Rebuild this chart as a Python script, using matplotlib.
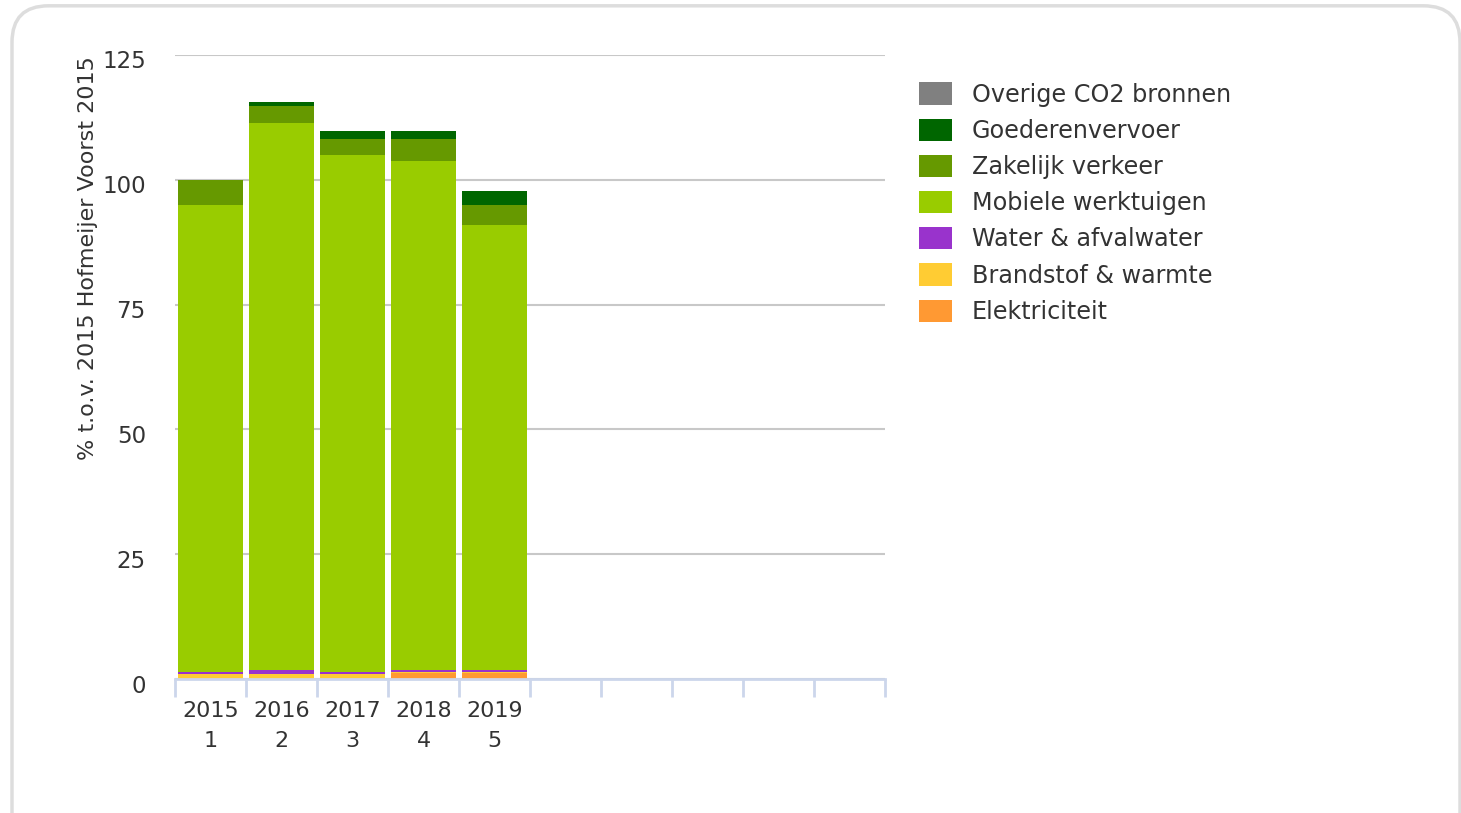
import numpy as np
import matplotlib.pyplot as plt
import matplotlib.transforms as mtransforms
from matplotlib.patches import FancyBboxPatch, Patch

# categorieën (10 plekken op de as, 5 gevuld)
jaren = ['2015', '2016', '2017', '2018', '2019']
nummers = ['1', '2', '3', '4', '5']
n_plekken = 10

# waarden per bron (% t.o.v. 2015)
elektriciteit = [0.0, 0.0, 0.0, 1.2, 1.2]
brandstof = [1.0, 1.0, 1.0, 0.3, 0.3]
water = [0.4, 0.8, 0.4, 0.3, 0.3]
mobiele = [93.6, 109.6, 103.6, 102.0, 89.2]
zakelijk = [4.9, 3.3, 3.2, 4.4, 4.0]
goederen = [0.0, 0.8, 1.6, 1.6, 2.8]
overige = [0.0, 0.0, 0.0, 0.0, 0.0]

reeksen = [
    ('Elektriciteit', elektriciteit, '#ff9933'),
    ('Brandstof & warmte', brandstof, '#ffcc33'),
    ('Water & afvalwater', water, '#9933cc'),
    ('Mobiele werktuigen', mobiele, '#99cc00'),
    ('Zakelijk verkeer', zakelijk, '#669900'),
    ('Goederenvervoer', goederen, '#006600'),
    ('Overige CO2 bronnen', overige, '#808080'),
]

W, H = 1461, 813
fig = plt.figure(figsize=(W / 100, H / 100), dpi=100)

# afgeronde rand rond de grafiek
rand = FancyBboxPatch((12 / W, -0.05), (1460 - 12) / W, (H - 5) / H + 0.05 - 0.001,
                      boxstyle='round,pad=0,rounding_size=0.025',
                      transform=fig.transFigure, facecolor='white',
                      edgecolor='#dddddd', linewidth=2.5, mutation_aspect=W / H,
                      zorder=-1)
fig.patches.append(rand)

ax = fig.add_axes([175 / W, (H - 679) / H, (885 - 175) / W, (679 - 55) / H])
ax.set_facecolor('none')

x = np.arange(len(jaren))
onder = np.zeros(len(jaren))
for naam, waarden, kleur in reeksen:
    ax.bar(x, waarden, bottom=onder, width=0.92, color=kleur, linewidth=0, zorder=3)
    onder += np.array(waarden)

ax.set_xlim(-0.5, n_plekken - 0.5)
ax.set_ylim(0, 125)
ax.set_yticks([0, 25, 50, 75, 100, 125])
ax.yaxis.grid(True, color='#c8c8c8', linewidth=1.5, zorder=0)
ax.set_axisbelow(True)

for s in ['top', 'right', 'left']:
    ax.spines[s].set_visible(False)
ax.spines['bottom'].set_color('#ccd6eb')
ax.spines['bottom'].set_linewidth(2)
ax.spines['bottom'].set_zorder(4)

ax.set_xticks(x)
ax.set_xticklabels([j + '\n' + n for j, n in zip(jaren, nummers)], linespacing=1.6)
ax.set_xticks(np.arange(-0.5, n_plekken, 1.0), minor=True)
ax.tick_params(axis='x', which='major', length=0, pad=16, labelsize=16, labelcolor='#333333')
ax.tick_params(axis='x', which='minor', length=13, width=2, color='#ccd6eb')
ax.tick_params(axis='y', length=0, pad=21, labelsize=16.5, labelcolor='#333333')

# y-labels iets lager dan de rasterlijn
omlaag = mtransforms.ScaledTranslation(0, -4.5 / 100, fig.dpi_scale_trans)
for lab in ax.get_yticklabels():
    lab.set_transform(lab.get_transform() + omlaag)

ax.set_ylabel('% t.o.v. 2015 Hofmeijer Voorst 2015', fontsize=16, color='#333333',
              labelpad=3, y=0.675)

handles = [Patch(facecolor=k, edgecolor='none', label=n) for n, _, k in reversed(reeksen)]
fig.legend(handles=handles, loc='upper left', bbox_to_anchor=(897 / W, 1 - 61 / H),
           frameon=False, fontsize=17.2, handlelength=1.42, handleheight=1.05,
           handletextpad=0.8, labelspacing=0.5, labelcolor='#333333')

fig.savefig('out.png', dpi=100)
